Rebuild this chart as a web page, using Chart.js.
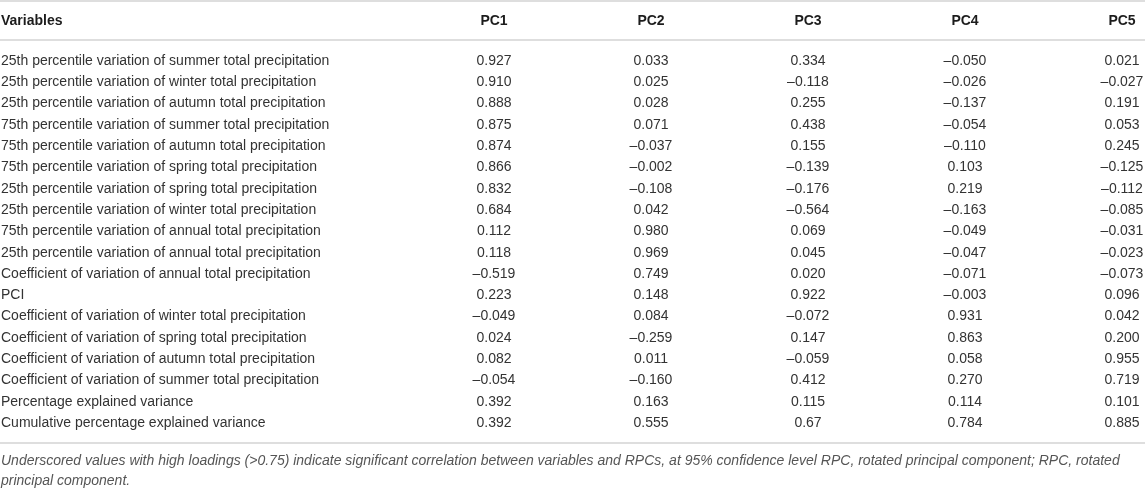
<!DOCTYPE html>
<html>
<head>
<meta charset="utf-8">
<title>Rotated principal component loadings</title>
<script src="https://cdn.jsdelivr.net/npm/chart.js@4.4.1/dist/chart.umd.min.js"></script>
<style>
	html, body { margin: 0; padding: 0; background: #fff; }
	#wrap { position: relative; width: 1145px; height: 488px; }
</style>
</head>
<body>
<div id="wrap"><canvas id="table"></canvas></div>
<script>
'use strict';

// row labels (first column of the table)
var variables = [
	'25th percentile variation of summer total precipitation',
	'25th percentile variation of winter total precipitation',
	'25th percentile variation of autumn total precipitation',
	'75th percentile variation of summer total precipitation',
	'75th percentile variation of autumn total precipitation',
	'75th percentile variation of spring total precipitation',
	'25th percentile variation of spring total precipitation',
	'25th percentile variation of winter total precipitation',
	'75th percentile variation of annual total precipitation',
	'25th percentile variation of annual total precipitation',
	'Coefficient of variation of annual total precipitation',
	'PCI',
	'Coefficient of variation of winter total precipitation',
	'Coefficient of variation of spring total precipitation',
	'Coefficient of variation of autumn total precipitation',
	'Coefficient of variation of summer total precipitation',
	'Percentage explained variance',
	'Cumulative percentage explained variance'
];

var components = ['PC1', 'PC2', 'PC3', 'PC4', 'PC5'];

// loadings, kept as printed in the table
var pc1 = ['0.927', '0.910', '0.888', '0.875', '0.874', '0.866', '0.832', '0.684', '0.112',
	'0.118', '-0.519', '0.223', '-0.049', '0.024', '0.082', '-0.054', '0.392', '0.392'];
var pc2 = ['0.033', '0.025', '0.028', '0.071', '-0.037', '-0.002', '-0.108', '0.042', '0.980',
	'0.969', '0.749', '0.148', '0.084', '-0.259', '0.011', '-0.160', '0.163', '0.555'];
var pc3 = ['0.334', '-0.118', '0.255', '0.438', '0.155', '-0.139', '-0.176', '-0.564', '0.069',
	'0.045', '0.020', '0.922', '-0.072', '0.147', '-0.059', '0.412', '0.115', '0.67'];
var pc4 = ['-0.050', '-0.026', '-0.137', '-0.054', '-0.110', '0.103', '0.219', '-0.163', '-0.049',
	'-0.047', '-0.071', '-0.003', '0.931', '0.863', '0.058', '0.270', '0.114', '0.784'];
var pc5 = ['0.021', '-0.027', '0.191', '0.053', '0.245', '-0.125', '-0.112', '-0.085', '-0.031',
	'-0.023', '-0.073', '0.096', '0.042', '0.200', '0.955', '0.719', '0.101', '0.885'];

var headerLabel = 'Variables';
var footnote = [
	'Underscored values with high loadings (>0.75) indicate significant correlation between variables and RPCs, at 95% confidence level RPC, rotated principal component; RPC, rotated',
	'principal component.'
];

var FONT = '"Liberation Sans", Arial, Helvetica, sans-serif';

// row positions on the y category axis (labels can repeat, so use indexes)
var rowKeys = variables.map(function (v, i) { return i; });

function buildDatasets() {
	var series = [pc1, pc2, pc3, pc4, pc5];
	return series.map(function (values, col) {
		return {
			label: components[col],
			data: values.map(function (v, row) {
				return { x: components[col], y: row, text: v };
			}),
			pointRadius: 0,
			pointHoverRadius: 0
		};
	});
}

/**
 * Draws the rules, the header row, the row labels, every cell and the note.
 * Cell and label positions come from the chart's x and y scales.
 */
var tablePlugin = {
	id: 'tableText',
	afterDatasetsDraw: function (chart) {
		var ctx = chart.ctx;
		var xScale = chart.scales.x;
		var yScale = chart.scales.y;
		var width = chart.width;
		var area = chart.chartArea;
		var i;

		ctx.save();

		// horizontal rules
		ctx.strokeStyle = '#d3d3d3';
		ctx.lineWidth = 1.5;
		[1, 40, 443].forEach(function (y) {
			ctx.beginPath();
			ctx.moveTo(0, y);
			ctx.lineTo(width, y);
			ctx.stroke();
		});

		// header row
		ctx.fillStyle = '#1c1c1c';
		ctx.font = 'bold 14px ' + FONT;
		ctx.textBaseline = 'middle';
		ctx.textAlign = 'left';
		ctx.fillText(headerLabel, 1, 21);
		ctx.textAlign = 'center';
		for (i = 0; i < components.length; i++) {
			ctx.fillText(components[i], xScale.getPixelForValue(i), 21);
		}

		// row labels
		ctx.fillStyle = '#333';
		ctx.font = '14px ' + FONT;
		ctx.textAlign = 'left';
		for (i = 0; i < variables.length; i++) {
			ctx.fillText(variables[i], 1, yScale.getPixelForValue(i));
		}

		// cells
		ctx.textAlign = 'center';
		chart.data.datasets.forEach(function (ds, d) {
			var meta = chart.getDatasetMeta(d);
			meta.data.forEach(function (pt, k) {
				var txt = ds.data[k].text.replace('-', '\u2013');
				ctx.fillText(txt, pt.x, pt.y);
			});
		});

		// note under the table
		ctx.fillStyle = '#555';
		ctx.font = 'italic 14px ' + FONT;
		ctx.textAlign = 'left';
		ctx.fillText(footnote[0], 1, area.bottom + 38);
		ctx.fillText(footnote[1], 1, area.bottom + 58);

		ctx.restore();
	}
};

var chart = new Chart(document.getElementById('table'), {
	type: 'scatter',
	data: {
		datasets: buildDatasets()
	},
	options: {
		responsive: true,
		maintainAspectRatio: false,
		animation: false,
		events: [],
		layout: {
			padding: { left: 494, right: 23, top: 61, bottom: 65 }
		},
		plugins: {
			legend: { display: false },
			tooltip: { enabled: false }
		},
		scales: {
			x: {
				type: 'category',
				labels: components,
				offset: false,
				display: false
			},
			y: {
				type: 'category',
				labels: rowKeys,
				offset: false,
				display: false
			}
		}
	},
	plugins: [tablePlugin]
});
</script>
</body>
</html>
